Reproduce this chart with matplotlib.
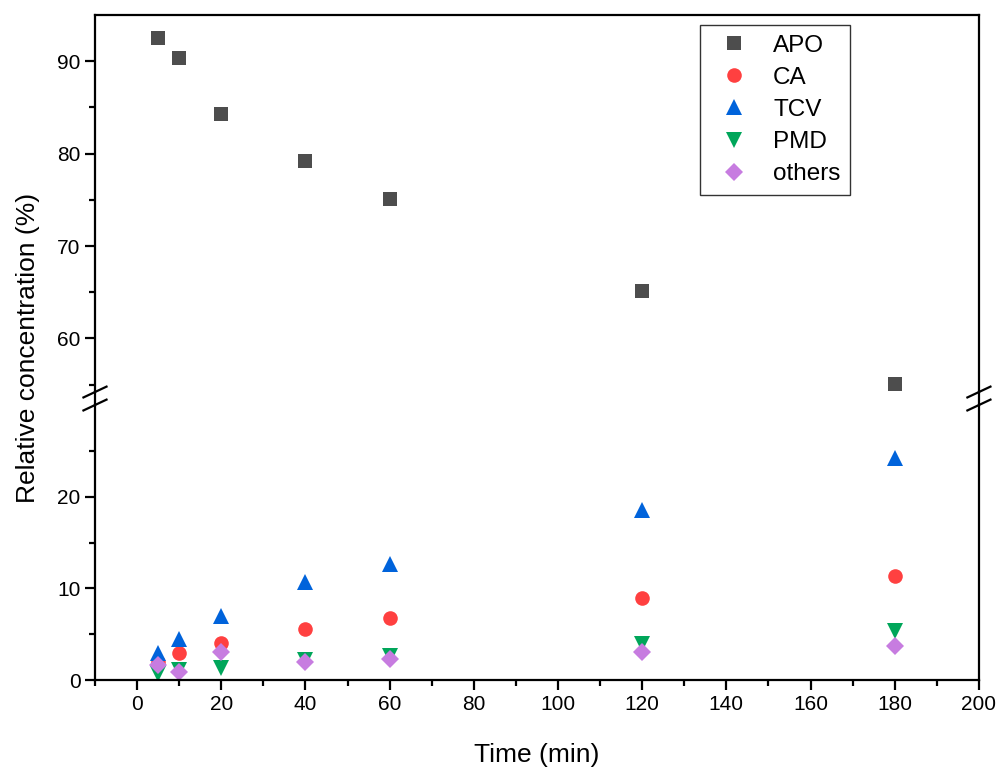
import matplotlib.pyplot as plt
from matplotlib.lines import Line2D
from matplotlib.ticker import MultipleLocator

plt.rcParams['font.family'] = ['Liberation Sans', 'DejaVu Sans']

# sampling times (min)
time = [5, 10, 20, 40, 60, 120, 180]

# relative concentrations (%)
apo = [92.5, 90.4, 84.3, 79.2, 75.1, 65.1, 55.1]
ca = [2.0, 2.9, 4.0, 5.6, 6.8, 9.0, 11.3]
tcv = [2.9, 4.5, 7.0, 10.7, 12.7, 18.5, 24.2]
pmd = [0.7, 1.1, 1.3, 2.2, 2.6, 3.9, 5.4]
others = [1.6, 0.9, 3.1, 2.0, 2.3, 3.1, 3.7]

series = [
    ('APO', apo, 's', '#4d4d4d', 9.5),
    ('CA', ca, 'o', '#ff4040', 10.5),
    ('TCV', tcv, '^', '#0063db', 11),
    ('PMD', pmd, 'v', '#00a65a', 11),
    ('others', others, 'D', '#c77ce0', 9),
]

fig = plt.figure(figsize=(10.03, 7.74), dpi=100)
left, right = 0.0947, 0.976
ax_top = fig.add_axes([left, 0.4935, right - left, 0.9806 - 0.4935])
ax_bot = fig.add_axes([left, 0.1214, right - left, 0.4767 - 0.1214])

for ax in (ax_top, ax_bot):
    for name, vals, m, c, ms in series:
        ax.plot(time, vals, ls='none', marker=m, color=c, ms=ms,
                markeredgewidth=0, label=name)
    ax.set_xlim(-10, 200)
    for s in ax.spines.values():
        s.set_linewidth(1.6)
    ax.tick_params(which='both', direction='out', width=1.6, labelsize=15,
                   right=False, top=False)
    ax.tick_params(which='major', length=7)
    ax.tick_params(which='minor', length=4)

ax_top.set_ylim(54.2, 95)
ax_top.set_yticks([60, 70, 80, 90])
ax_top.set_yticks([55, 65, 75, 85], minor=True)
ax_top.spines['bottom'].set_visible(False)
ax_top.tick_params(axis='x', which='both', bottom=False, labelbottom=False)

ax_bot.set_ylim(0, 30)
ax_bot.set_yticks([0, 10, 20])
ax_bot.set_yticks([5, 15, 25], minor=True)
ax_bot.spines['top'].set_visible(False)
ax_bot.xaxis.set_major_locator(MultipleLocator(20))
ax_bot.xaxis.set_minor_locator(MultipleLocator(10))

# continuous spines across the gap and break marks
for xf in (left, right):
    fig.add_artist(Line2D([xf, xf], [0.4767, 0.4935], color='black', lw=1.6))
    for yf in (0.4935, 0.4767):
        fig.add_artist(Line2D([xf - 0.0115, xf + 0.0115], [yf - 0.007, yf + 0.007],
                              color='black', lw=1.6))

fig.text(0.535, 0.025, 'Time (min)', ha='center', va='center', fontsize=19)
fig.text(0.028, 0.55, 'Relative concentration (%)', ha='center', va='center',
         rotation=90, fontsize=19)

leg = ax_top.legend(loc='upper left', bbox_to_anchor=(0.698, 0.968),
                    bbox_transform=fig.transFigure, borderaxespad=0,
                    fontsize=17.5, frameon=True, fancybox=False,
                    handletextpad=0.6, labelspacing=0.42, borderpad=0.4)
leg.get_frame().set_edgecolor('black')
leg.get_frame().set_linewidth(1.0)

fig.savefig('out.png', dpi=100)
